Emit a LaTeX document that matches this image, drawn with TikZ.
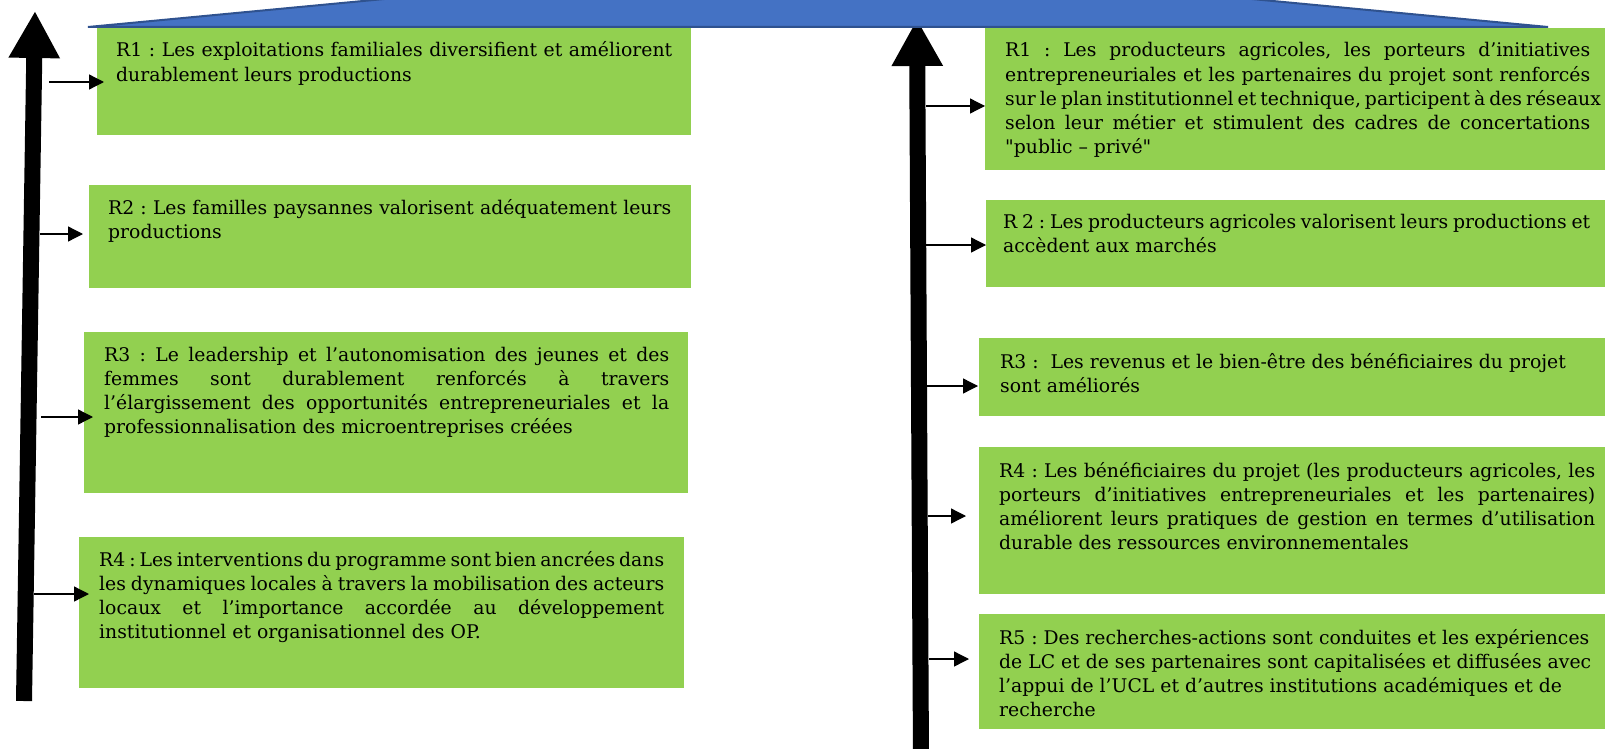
\documentclass[tikz,border=0pt]{standalone}
\usepackage{fontspec}
\setmainfont{DejaVu Serif}[Ligatures=TeXOff]
\usetikzlibrary{arrows.meta}
\definecolor{boxgreen}{HTML}{92D050}
\definecolor{bandblue}{HTML}{4472C4}
\definecolor{bandline}{HTML}{2F528F}
% a result text: lines stacked in a top-aligned box of given width
\newcommand\restext[2]{\vtop{\hsize=#1pt \frenchspacing #2}}
% one justified line / one ragged line of a result text
\newcommand\jl[1]{\hbox to \hsize{#1}}
\newcommand\rl[1]{\hbox{#1}}
\begin{document}
\begin{tikzpicture}[x=1pt,y=-1pt,
  gbox/.style={fill=boxgreen, draw=none, inner sep=0pt, anchor=north west},
  txt/.style={anchor=base west, inner sep=0pt,
    font=\fontsize{18.8}{24.2}\selectfont},
  bigarrow/.style={line width=16pt, -{Triangle[length=47pt,width=48pt]}},
  smallarrow/.style={line width=1.3pt, -{Triangle[length=15pt,width=15pt]}}]
\path[use as bounding box] (0,0) rectangle (1605,749);
\clip (0,0) rectangle (1605,749);

% ---------- left column ----------
\node[gbox, minimum width=594, minimum height=107] (l1) at (97,28) {};
\node[gbox, minimum width=602, minimum height=103] (l2) at (89,185) {};
\node[gbox, minimum width=604, minimum height=161] (l3) at (84,332) {};
\node[gbox, minimum width=605, minimum height=151] (l4) at (79,537) {};

\node[txt] (l1t) at (116,57) {\restext{556}{%
  \jl{R1 : Les exploitations familiales diversifient et améliorent}%
  \rl{durablement leurs productions}}};
\node[txt] (l2t) at (108,214) {\restext{563}{%
  \jl{R2 : Les familles paysannes valorisent adéquatement leurs}%
  \rl{productions}}};
\node[txt] (l3t) at (104,361) {\restext{565}{%
  \jl{R3 : Le leadership et l’autonomisation des jeunes et des}%
  \jl{femmes sont durablement renforcés à travers}%
  \jl{l’élargissement des opportunités entrepreneuriales et la}%
  \rl{professionnalisation des microentreprises créées}}};
\node[txt] (l4t) at (99,566) {\restext{565}{%
  \jl{R4 : Les interventions du programme sont bien ancrées dans}%
  \jl{les dynamiques locales à travers la mobilisation des acteurs}%
  \jl{locaux et l’importance accordée au développement}%
  \rl{institutionnel et organisationnel des OP.}}};

% ---------- right column ----------
\node[gbox, minimum width=620, minimum height=142] (r1) at (985,28) {};
\node[gbox, minimum width=619, minimum height=87] (r2) at (986,200) {};
\node[gbox, minimum width=626, minimum height=78] (r3) at (979,338) {};
\node[gbox, minimum width=626, minimum height=147] (r4) at (979,447) {};
\node[gbox, minimum width=626, minimum height=115] (r5) at (979,614) {};

\node[txt] (r1t) at (1005,57) {\restext{585}{%
  \jl{R1 : Les producteurs agricoles, les porteurs d’initiatives}%
  \jl{entrepreneuriales et les partenaires du projet sont renforcés}%
  \jl{sur le plan institutionnel et technique, participent à des réseaux}%
  \jl{selon leur métier et stimulent des cadres de concertations}%
  \rl{"public – privé"}}};
\node[txt] (r2t) at (1003,228) {\restext{587}{%
  \jl{R 2 : Les producteurs agricoles valorisent leurs productions et}%
  \rl{accèdent aux marchés}}};
\node[txt] (r3t) at (1000,368) {\restext{590}{%
  \rl{R3 :\ \ Les revenus et le bien-être des bénéficiaires du projet}%
  \rl{sont améliorés}}};
\node[txt] (r4t) at (999,477) {\restext{596}{%
  \jl{R4 : Les bénéficiaires du projet (les producteurs agricoles, les}%
  \jl{porteurs d’initiatives entrepreneuriales et les partenaires)}%
  \jl{améliorent leurs pratiques de gestion en termes d’utilisation}%
  \rl{durable des ressources environnementales}}};
\node[txt] (r5t) at (999,644) {\restext{590}{%
  \rl{R5 : Des recherches-actions sont conduites et les expériences}%
  \rl{de LC et de ses partenaires sont capitalisées et diffusées avec}%
  \rl{l’appui de l’UCL et d’autres institutions académiques et de}%
  \rl{recherche}}};

% ---------- big vertical arrows ----------
\coordinate (lbot) at (24,701);
\coordinate (ltop) at (35,11);
\coordinate (rbot) at (921,760);
\coordinate (rtop) at (917,19);
\draw[bigarrow] (lbot) -- (ltop);
\draw[bigarrow] (rbot) -- (rtop);

% ---------- small arrows into the boxes ----------
\coordinate (ls1) at (49,82);   \coordinate (le1) at (104,82);
\coordinate (ls2) at (40,234);  \coordinate (le2) at (83,234);
\coordinate (ls3) at (41,417);  \coordinate (le3) at (93,417);
\coordinate (ls4) at (34,594);  \coordinate (le4) at (89,594);
\coordinate (rs1) at (926,106); \coordinate (re1) at (985,106);
\coordinate (rs2) at (926,245); \coordinate (re2) at (986,245);
\coordinate (rs3) at (926,386); \coordinate (re3) at (978,386);
\coordinate (rs4) at (928,516); \coordinate (re4) at (966,516);
\coordinate (rs5) at (929,659); \coordinate (re5) at (969,659);
\draw[smallarrow] (ls1) -- (le1);
\draw[smallarrow] (ls2) -- (le2);
\draw[smallarrow] (ls3) -- (le3);
\draw[smallarrow] (ls4) -- (le4);
\draw[smallarrow] (rs1) -- (re1);
\draw[smallarrow] (rs2) -- (re2);
\draw[smallarrow] (rs3) -- (re3);
\draw[smallarrow] (rs4) -- (re4);
\draw[smallarrow] (rs5) -- (re5);

% ---------- blue band across the top ----------
\filldraw[fill=bandblue, draw=bandline, line width=2pt]
  (88,27) -- (818,-42) -- (1548,27) -- cycle;
\end{tikzpicture}
\end{document}
